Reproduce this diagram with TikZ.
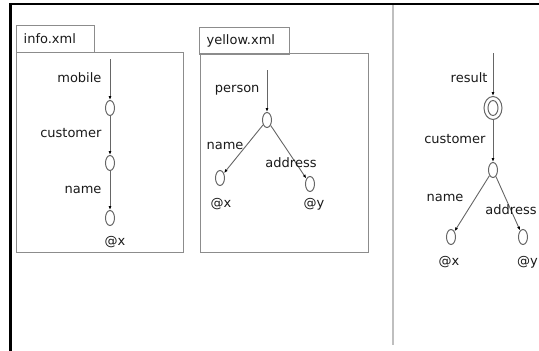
\documentclass[tikz,border=0pt]{standalone}
\usepackage{fontspec}
\setmainfont{DejaVu Sans}
\usepackage{tikz}
\usetikzlibrary{shapes,arrows.meta,positioning}

\begin{document}
\begin{tikzpicture}[x=1pt, y=-1pt,
    every node/.style={font=\fontsize{13}{15}\selectfont, text=black!90},
    vert/.style={draw=black!60, ellipse, minimum width=9pt, minimum height=15pt, inner sep=0pt, line width=1pt},
    edge/.style={draw=black!60, line width=0.9pt, -{Latex[black, length=4pt, width=3pt]}},
    panel/.style={draw=black!45, line width=1.3pt, rectangle, inner sep=0pt, anchor=north west},
    tab/.style={draw=black!45, line width=1.3pt, rectangle, anchor=north west, inner xsep=7pt, minimum height=27pt, align=left}]
    \useasboundingbox (0,0) rectangle (539,351);
    \clip (0,0) rectangle (539,351);

    % frame
    \draw[black, line width=2.5pt] (9,4) -- (539,4);
    \draw[black, line width=3pt] (10,3) -- (10,351);
    \draw[black!25, line width=2pt] (393,5) -- (393,345);

    % info.xml
    \node[tab, text width=64pt] (infotab) at (16,25) {info.xml};
    \node[panel, minimum width=167pt, minimum height=200pt] (infobox) at (16,52) {};
    \coordinate (infotop) at (110,59);
    \node[vert] (i1) at (110,108) {};
    \node[vert] (i2) at (110,163) {};
    \node[vert] (i3) at (110,218) {};
    \draw[edge] (infotop) -- (i1);
    \draw[edge] (i1) -- (i2);
    \draw[edge] (i2) -- (i3);
    \node[anchor=east] (mobile) at (105,78) {mobile};
    \node[anchor=east] (icust) at (105,133) {customer};
    \node[anchor=east] (iname) at (105,190) {name};
    \node (ix) at (115,242) {@x};

    % yellow.xml
    \node[tab, text width=76pt] (yeltab) at (199,27) {yellow.xml};
    \node[panel, minimum width=168pt, minimum height=199pt] (yelbox) at (200,53) {};
    \coordinate (yeltop) at (267,70);
    \node[vert] (y1) at (267,120) {};
    \node[vert] (y2) at (220,178) {};
    \node[vert] (y3) at (310,184) {};
    \draw[edge] (yeltop) -- (y1);
    \draw[edge] (y1) -- (y2);
    \draw[edge] (y1) -- (y3);
    \node[anchor=east] (person) at (263,90) {person};
    \node (yname) at (225,146) {name};
    \node (yaddr) at (291,163) {address};
    \node (yx) at (221,204) {@x};
    \node (yy) at (314,204) {@y};

    % result
    \coordinate (restop) at (493,53);
    \node[vert, minimum width=18pt, minimum height=23pt] (r1) at (493,108) {};
    \node[vert, minimum width=10pt, minimum height=15pt] (r1in) at (493,108) {};
    \node[vert] (r2) at (493,170) {};
    \node[vert] (r3) at (451,237) {};
    \node[vert] (r4) at (523,237) {};
    \draw[edge] (restop) -- (r1);
    \draw[edge] (r1) -- (r2);
    \draw[edge] (r2) -- (r3);
    \draw[edge] (r2) -- (r4);
    \node[anchor=east] (result) at (491,78) {result};
    \node[anchor=east] (rcust) at (489,139) {customer};
    \node (rname) at (445,198) {name};
    \node (raddr) at (511,210) {address};
    \node (rx) at (449,262) {@x};
    \node[anchor=east, inner xsep=1pt] (ry) at (539,262) {@y};
\end{tikzpicture}
\end{document}
